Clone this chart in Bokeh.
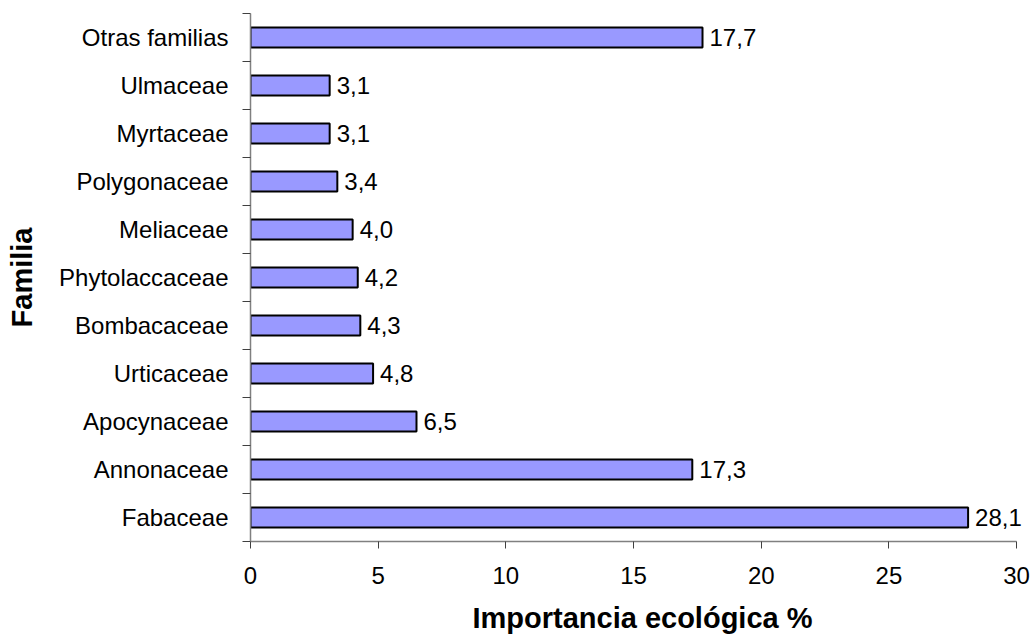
from bokeh.plotting import figure
from bokeh.models import ColumnDataSource, FixedTicker, Range1d
from bokeh.embed import file_html
from bokeh.resources import INLINE
from bokeh.core.properties import value

familias = ["Fabaceae", "Annonaceae", "Apocynaceae", "Urticaceae", "Bombacaceae",
            "Phytolaccaceae", "Meliaceae", "Polygonaceae", "Myrtaceae", "Ulmaceae",
            "Otras familias"]
valores = [28.1, 17.3, 6.5, 4.8, 4.3, 4.2, 4.0, 3.4, 3.1, 3.1, 17.7]
x_ticks = [0, 5, 10, 15, 20, 25, 30]

n = len(familias)
pos = list(range(n))
etiquetas = [f"{v:.1f}".replace(".", ",") for v in valores]
src = ColumnDataSource(dict(y=pos, v=valores, lab=etiquetas))

FONT = "Liberation Sans"

p = figure(width=1035, height=636, output_backend="svg", toolbar_location=None,
           x_range=Range1d(0, 30.7), y_range=Range1d(-0.5, n - 0.5),
           min_border_left=250, min_border_right=1, min_border_top=13,
           min_border_bottom=95)
p.outline_line_color = None
p.xgrid.visible = False
p.ygrid.visible = False
p.background_fill_color = "white"
p.border_fill_color = "white"

p.hbar(y="y", right="v", left=0, height=0.42, source=src,
       fill_color="#9999FF", line_color="black", line_width=2)
p.text(x="v", y="y", text="lab", source=src, x_offset=7,
       text_align="left", text_baseline="middle",
       text_font=value(FONT), text_font_size="24px", text_color="black")

# x axis
xa = p.xaxis[0]
xa.ticker = FixedTicker(ticks=x_ticks, minor_ticks=[])
xa.bounds = (0, 30)
xa.axis_line_color = "#808080"
xa.axis_line_width = 1.5
xa.major_tick_line_color = "#404040"
xa.major_tick_out = 7
xa.major_tick_in = 0
xa.minor_tick_out = 0
xa.minor_tick_in = 0
xa.major_label_standoff = 18
xa.major_label_text_font = FONT
xa.major_label_text_font_size = "24px"
xa.major_label_text_color = "black"
xa.axis_label = "Importancia ecológica %"
xa.axis_label_text_font = FONT
xa.axis_label_text_font_style = "bold"
xa.axis_label_text_font_size = "29px"
xa.axis_label_text_color = "black"
xa.axis_label_standoff = 15

# y axis
ya = p.yaxis[0]
ya.ticker = FixedTicker(ticks=pos, minor_ticks=[i - 0.5 for i in range(n + 1)])
ya.major_label_overrides = {i: f for i, f in zip(pos, familias)}
ya.axis_line_color = "#808080"
ya.axis_line_width = 1.5
ya.major_tick_out = 0
ya.major_tick_in = 0
ya.minor_tick_out = 8
ya.minor_tick_in = 0
ya.minor_tick_line_color = "#404040"
ya.major_label_standoff = 14
ya.major_label_text_font = FONT
ya.major_label_text_font_size = "24px"
ya.major_label_text_color = "black"
ya.axis_label = "Familia"
ya.axis_label_text_font = FONT
ya.axis_label_text_font_style = "bold"
ya.axis_label_text_font_size = "29px"
ya.axis_label_text_color = "black"
ya.axis_label_standoff = 18

open("out.html", "w").write(file_html(p, INLINE))
